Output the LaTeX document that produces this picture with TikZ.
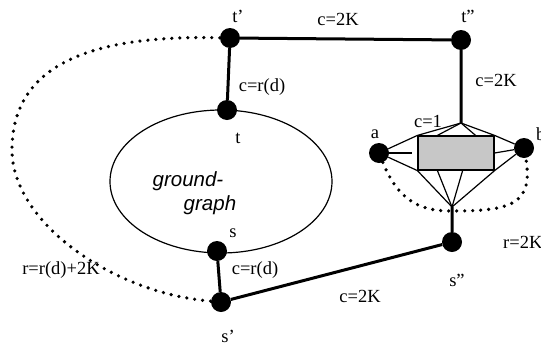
\documentclass[tikz,border=0pt]{standalone}
\usepackage{fontspec}
\setmainfont{Liberation Serif}
\setsansfont{Liberation Sans}
\usetikzlibrary{positioning}

\tikzset{
  vtx/.style={circle, fill=black, inner sep=0pt, minimum size=20pt},
  heavy/.style={line width=3pt},
  fine/.style={line width=1.2pt},
  dots/.style={line width=3.6pt, line cap=round, dash pattern=on 0pt off 8pt},
  lbl/.style={font=\fontsize{18.5}{21}\selectfont, inner sep=0pt},
  gadget/.style={draw, fill=black!22, line width=1.2pt, minimum width=76pt, minimum height=34pt, inner sep=0pt}
}

\begin{document}
\begin{tikzpicture}[x=1pt, y=-1pt]
  \useasboundingbox (0,0) rectangle (541,346);
  % ground-graph
  \draw[fine] (221,181.5) ellipse [x radius=111pt, y radius=71.5pt];
  \node[font=\fontsize{20.5}{24}\selectfont\sffamily\itshape, inner sep=0pt] (gg1) at (188,181) {ground-};
  \node[font=\fontsize{20.5}{24}\selectfont\sffamily\itshape, inner sep=0pt, below right=5pt and -40pt of gg1] (gg2) {graph};

  % Vertici principali
  \node[vtx] (tp) at (230,38) {};
  \node[vtx] (tpp) at (461,40) {};
  \node[vtx] (t) at (227,110) {};
  \node[vtx] (s) at (217,251) {};
  \node[vtx] (sp) at (221,302) {};
  \node[vtx] (spp) at (452,242) {};
  \node[vtx] (a) at (379,153) {};
  \node[vtx] (b) at (524,148) {};
  \node[gadget] (box) at (456,153) {};
  \coordinate (top) at (461,123);
  \coordinate (bot) at (452,207);

  % gadget
  \draw[fine] (a) -- (box.north west) -- (top) -- (box.north east) -- (b);
  \draw[fine] (a) -- (box.south west) -- (bot) -- (box.south east) -- (b);
  \draw[fine] (a) -- ([xshift=-5pt]box.west);
  \draw[fine] (b) -- (box.east);
  \draw[fine] (top) -- ([xshift=20pt]box.north west);
  \draw[fine] (top) -- ([xshift=-19pt]box.north east);
  \draw[fine] (bot) -- ([xshift=20pt]box.south west);
  \draw[fine] (bot) -- ([xshift=-32pt]box.south east);

  % archi
  \draw[heavy] (tp) -- (tpp) -- (top);
  \draw[heavy] (tp) -- (t);
  \draw[heavy] (s) -- (sp) -- (spp) -- (bot);
  \draw[dots] (tp) .. controls (100,35) and (12,60) .. (12,150) .. controls (12,222) and (112,293) .. (sp);
  \draw[dots] (a) .. controls (400,205) and (425,211) .. (452,211) .. controls (510,211) and (534,205) .. (b);

  % etichette
  \node[lbl] (ltp) at (238,16) {t'};
  \node[lbl] (ltpp) at (468,16) {t''};
  \node[lbl] (lt) at (238,138) {t};
  \node[lbl] (ls) at (233,233) {s};
  \node[lbl] (lsp) at (228,336) {s'};
  \node[lbl] (lspp) at (457,280) {s''};
  \node[lbl] (la) at (375,134) {a};
  \node[lbl, anchor=west] (lb) at (536,134) {b};
  \node[lbl] (c1) at (338,19) {c=2K};
  \node[lbl] (c2) at (496,80) {c=2K};
  \node[lbl] (c3) at (262,87) {c=r(d)};
  \node[lbl] (c4) at (255,270) {c=r(d)};
  \node[lbl] (c5) at (360,296) {c=2K};
  \node[lbl] (c6) at (428,121) {c=1};
  \node[lbl, anchor=west] (r1) at (503,242) {r=2K};
  \node[lbl] (r2) at (61,270) {r=r(d)+2K};
\end{tikzpicture}
\end{document}
